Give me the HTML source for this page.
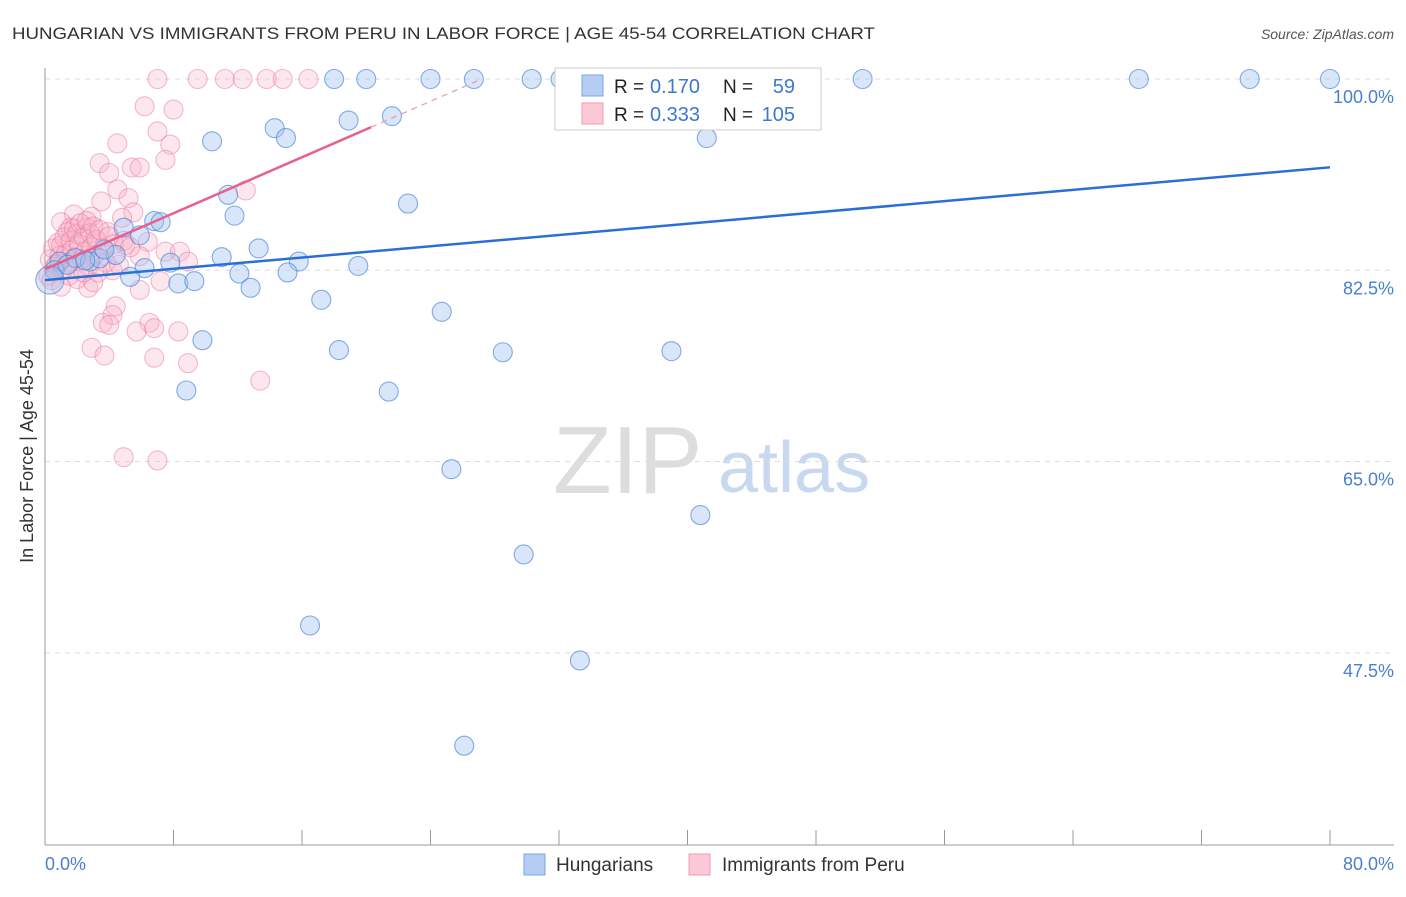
<!DOCTYPE html>
<html><head><meta charset="utf-8"><style>
body{margin:0;background:#fff;font-family:"Liberation Sans",sans-serif;}
svg text{font-family:"Liberation Sans",sans-serif;}
</style></head><body>
<svg id="chart" width="1406" height="892">
<text x="12" y="39" font-size="17" fill="#333" textLength="863" lengthAdjust="spacingAndGlyphs">HUNGARIAN VS IMMIGRANTS FROM PERU IN LABOR FORCE | AGE 45-54 CORRELATION CHART</text>
<text x="1394" y="39" font-size="14" fill="#555" font-style="italic" text-anchor="end">Source: ZipAtlas.com</text>
<g>
<text x="553" y="493" font-size="96" fill="#ddd" font-family="Liberation Serif,serif">ZIP</text>
<text x="718" y="492" font-size="72" fill="#c8d8ef">atlas</text>
</g>
<g id="grid"></g><g id="axes"></g><g id="pts"></g><g id="lines"></g>
<text transform="translate(33,456) rotate(-90)" font-size="18" fill="#333" text-anchor="middle">In Labor Force | Age 45-54</text>
<text x="45" y="870" font-size="18" fill="#4a7fd0">0.0%</text>
<text x="1394" y="870" font-size="18" fill="#4a7fd0" text-anchor="end">80.0%</text>
<g>
<rect x="555" y="68" width="266" height="62" fill="#fff" stroke="#ccc"/>
<rect x="582" y="75" width="21" height="21" fill="#b5cdf3" stroke="#7aa5e8"/>
<rect x="582" y="103" width="21" height="21" fill="#fcc9d6" stroke="#f19ab3"/>
<text x="614" y="93" font-size="19" fill="#222">R =</text><text x="650" y="93" font-size="20" fill="#3b78d4">0.170</text>
<text x="723" y="93" font-size="19" fill="#222">N =</text><text x="795" y="93" font-size="20" fill="#3b78d4" text-anchor="end">59</text>
<text x="614" y="121" font-size="19" fill="#222">R =</text><text x="650" y="121" font-size="20" fill="#3b78d4">0.333</text>
<text x="723" y="121" font-size="19" fill="#222">N =</text><text x="795" y="121" font-size="20" fill="#3b78d4" text-anchor="end">105</text>
</g>
<g>
<rect x="524" y="854" width="21" height="21" fill="#b5cdf3" stroke="#7aa5e8"/>
<text x="556" y="871" font-size="19" fill="#333">Hungarians</text>
<rect x="689" y="854" width="21" height="21" fill="#fcc9d6" stroke="#f19ab3"/>
<text x="722" y="871" font-size="19" fill="#333">Immigrants from Peru</text>
</g>
</svg>
<script>
const yTicks=[100,82.5,65,47.5];
const xTicks=[0,8,16,24,32,40,48,56,64,72,80];
const blueX=[10.4,14.3,15.0,18.9,21.6,18.0,20.0,24.0,26.7,30.3,32.1,50.9,68.1,75.0,80.0,41.2,11.4,11.8,6.8,7.2,4.9,5.9,22.6,13.3,11.0,15.8,19.5,6.2,7.8,5.3,8.3,9.3,12.1,12.8,15.1,17.2,24.7,9.8,18.3,28.5,39.0,8.8,21.4,25.3,40.8,29.8,16.5,33.3,26.1,0.9,1.9,2.8,3.4,4.4,2.5,0.6,1.4,3.7];
const blueY=[94.3,95.5,94.6,96.2,96.6,100,100,100,100,100,100,100,100,100,100,94.6,89.4,87.5,87.0,86.9,86.4,85.7,88.6,84.5,83.7,83.3,82.9,82.7,83.2,81.9,81.3,81.5,82.2,80.9,82.3,79.8,78.7,76.1,75.2,75.0,75.1,71.5,71.4,64.3,60.1,56.5,50.0,46.8,39.0,83.3,83.6,83.3,83.6,83.9,83.4,82.5,83.0,84.4];
const pinkX=[7.0,9.5,11.2,12.3,13.8,14.8,16.4,6.2,8.0,7.0,7.8,4.5,3.4,5.4,5.9,7.5,4.0,4.5,5.2,12.5,5.5,3.5,4.8,1.8,2.9,2.6,1.0,1.6,3.9,5.0,6.4,7.5,8.4,5.9,8.9,4.2,7.2,5.9,2.7,4.4,4.2,3.6,4.0,6.5,8.3,5.7,6.8,2.9,3.7,6.8,8.9,13.4,4.9,7.0,0.2,0.3,0.5,0.6,0.8,0.9,1.0,1.1,1.2,1.3,1.4,1.5,1.6,1.7,1.8,1.9,2.0,2.1,2.2,2.3,2.4,2.5,2.6,2.7,2.8,2.9,3.0,3.1,3.2,3.3,3.4,3.6,3.8,4.0,4.3,4.6,4.9,5.3,0.4,1.0,2.0,3.0,0.7,1.5,2.4];
const pinkY=[100,100,100,100,100,100,100,97.5,97.2,95.2,94.0,94.1,92.3,91.9,91.9,92.6,91.4,89.9,89.1,89.8,87.8,88.8,87.3,87.6,87.4,86.4,86.9,86.4,86.0,84.8,85.1,84.2,84.2,83.8,83.3,82.5,81.5,80.7,80.9,79.2,78.4,77.7,77.5,77.7,76.9,76.9,77.2,75.4,74.7,74.5,74.0,72.4,65.4,65.1,82,83.5,84.5,82.8,85,83.8,84.8,82.5,85.5,84,86,83.2,85.2,84.4,86.3,83.7,85.8,84.9,86.8,83.5,85.5,84.2,87,82.8,85.9,84.6,86.5,83.9,85.3,82.3,86.2,84.5,83.2,85.6,84.9,83.0,85.2,84.6,81.6,81.0,81.7,81.4,83.0,82.0,82.3];
const blueTrend=[81.6,0.129];
const pinkTrend=[82.6,0.64];
const NS='http://www.w3.org/2000/svg';
const X=v=>45+v/80*1285;
const Y=v=>79+(100-v)*10.93;
function mk(tag,attrs,parent){const e=document.createElementNS(NS,tag);for(const k in attrs)e.setAttribute(k,attrs[k]);document.getElementById(parent).appendChild(e);return e;}
yTicks.forEach((t,i)=>{
 const g=mk('line',{x1:45,x2:1394,y1:Y(t),y2:Y(t),stroke:'#ddd','stroke-dasharray':'5,5'},'grid');
 
 
 const l=mk('text',{x:1394,y:Y(t)+24,'font-size':18,fill:'#4a7fd0','text-anchor':'end'},'grid');
 l.textContent=t.toFixed(1)+'%';
 
 
});
const ya=mk('line',{x1:45,x2:45,y1:68,y2:845,stroke:'#999'},'axes');


const xa=mk('line',{x1:45,x2:1394,y1:845,y2:845,stroke:'#999'},'axes');


xTicks.forEach(t=>{
 const k=mk('line',{x1:X(t),x2:X(t),y1:830,y2:845,stroke:'#999'},'axes');
 
 
});
pinkX.forEach((v,i)=>{
 const c=mk('circle',{cx:X(v),cy:Y(pinkY[i]),r:9.5,fill:'rgba(248,175,198,0.3)',stroke:'rgba(235,120,155,0.5)','stroke-width':1.1},'pts');
 
 
});
blueX.forEach((v,i)=>{
 const c=mk('circle',{cx:X(v),cy:Y(blueY[i]),r:9.5,fill:'rgba(160,192,240,0.4)',stroke:'rgba(70,130,215,0.65)','stroke-width':1.1},'pts');
 
 
});
const big=mk('circle',{cx:X(0.3),cy:Y(81.6),r:14,fill:'rgba(160,192,240,0.4)',stroke:'rgba(70,130,215,0.65)','stroke-width':1.1},'pts');


const bl=mk('line',{x1:X(0),y1:Y(blueTrend[0]),x2:X(80),y2:Y(blueTrend[0]+blueTrend[1]*80),stroke:'#2a6fd6','stroke-width':2.5},'lines');


const pe=(100-pinkTrend[0])/pinkTrend[1];
const pl=mk('line',{x1:X(0),y1:Y(pinkTrend[0]),x2:X(20.3),y2:Y(pinkTrend[0]+pinkTrend[1]*20.3),stroke:'#e8608e','stroke-width':2.5},'lines');


const pd=mk('line',{x1:X(20.3),y1:Y(pinkTrend[0]+pinkTrend[1]*20.3),x2:X(pe),y2:Y(100),stroke:'#f19ab3','stroke-width':1.3,'stroke-dasharray':'6,5'},'lines');


</script>
</body></html>
